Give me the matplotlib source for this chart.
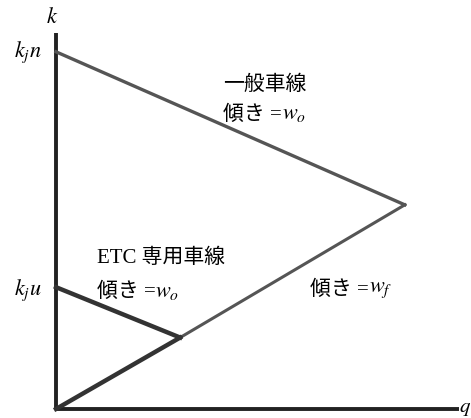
import matplotlib.pyplot as plt

plt.rcParams['font.family'] = ['Liberation Serif', 'Noto Sans CJK JP']
plt.rcParams['mathtext.fontset'] = 'stix'

# fundamental diagram values (q along x, k along y, axis range 0..1)
kj_n = 0.95        # jam density, general lane
kj_u = 0.324       # jam density, ETC lane
q_crit = 0.857     # capacity of general lane
k_crit = 0.543     # density at capacity
q_etc = 0.305      # capacity of ETC lane
k_etc = 0.19       # density at ETC capacity

fig = plt.figure(figsize=(4.71, 4.18), dpi=100)
ax = fig.add_axes([56 / 471, 9 / 418, 407 / 471, 376 / 418])
ax.set_xlim(0, 1)
ax.set_ylim(0, 1)
ax.axis('off')

# axes
ax.plot([0, 0], [0, 1], color='#222222', lw=2.8, clip_on=False, solid_capstyle='butt')
ax.plot([0, 0.99], [0, 0], color='#222222', lw=2.8, clip_on=False, solid_capstyle='butt')

# general lane (thin, grey)
ax.plot([0, q_crit], [kj_n, k_crit], color='#555555', lw=2.4, clip_on=False)
ax.plot([q_etc, q_crit], [k_etc, k_crit], color='#555555', lw=2.2, clip_on=False)

# ETC lane (thick)
ax.plot([0, q_etc], [0, k_etc], color='#333333', lw=3.2, clip_on=False)
ax.plot([0, q_etc], [kj_u, k_etc], color='#333333', lw=3.2, clip_on=False)

fs = 15


def slope_label(x, y, sym):
    # CJK part as plain text, the symbol as mathtext right after it
    t = ax.text(x, y, '傾き =', fontsize=fs, va='center', ha='left')
    ax.annotate(sym, xy=(1, 0.5), xycoords=t, va='center', ha='left',
                fontsize=fs + 1)


ax.text(0.41, 0.862, '一般車線', fontsize=fs, va='center', ha='left')
slope_label(0.41, 0.782, '$w_o$')
ax.text(0.10, 0.402, 'ETC 専用車線', fontsize=fs, va='center', ha='left')
slope_label(0.10, 0.311, '$w_o$')
slope_label(0.624, 0.316, '$w_f$')

ax.text(-0.01, 1.04, '$k$', fontsize=16, va='center', ha='center', clip_on=False)
ax.text(0.99, 0.0, '$q$', fontsize=15, va='center', ha='left', clip_on=False)
ax.text(-0.035, kj_n, '$k_jn$', fontsize=16, va='center', ha='right', clip_on=False)
ax.text(-0.035, 0.316, '$k_ju$', fontsize=16, va='center', ha='right', clip_on=False)

fig.savefig('out.png', dpi=100)
